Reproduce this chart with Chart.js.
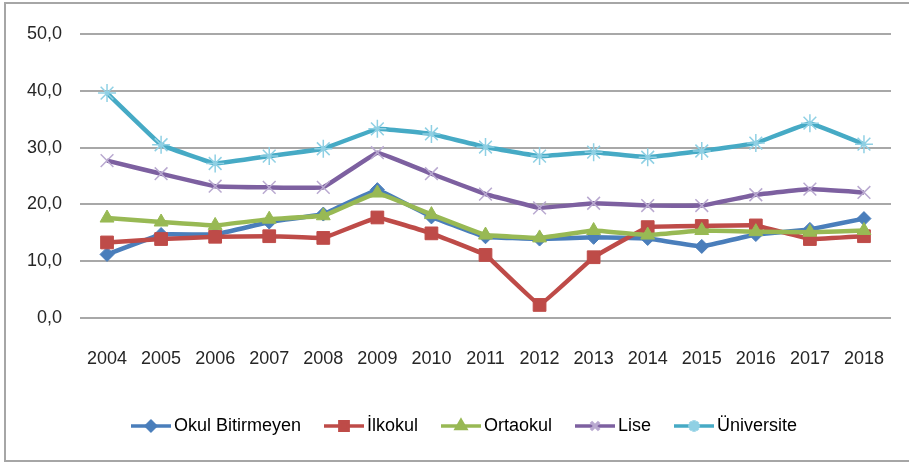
<!DOCTYPE html>
<html>
<head>
<meta charset="utf-8">
<script src="https://cdn.jsdelivr.net/npm/chart.js@4.4.1/dist/chart.umd.min.js"></script>
<style>
    html, body { margin: 0; padding: 0; background: #fff; }
    #wrap { position: relative; width: 909px; height: 464px; }
</style>
</head>
<body>
<div id="wrap"><canvas id="chart" width="909" height="464"></canvas></div>
<script>
// Veriler
const years = ['2004', '2005', '2006', '2007', '2008', '2009', '2010', '2011', '2012', '2013', '2014', '2015', '2016', '2017', '2018'];
const okulBitirmeyen = [11.2, 14.7, 14.7, 16.9, 18.3, 22.6, 17.8, 14.3, 13.9, 14.2, 14.0, 12.6, 14.7, 15.6, 17.5];
const ilkokul = [13.3, 13.9, 14.3, 14.4, 14.1, 17.7, 14.9, 11.1, 2.3, 10.7, 16.0, 16.2, 16.3, 13.9, 14.4];
const ortaokul = [17.6, 16.9, 16.3, 17.4, 18.0, 22.0, 18.2, 14.6, 14.1, 15.4, 14.6, 15.4, 15.2, 15.1, 15.4];
const lise = [27.7, 25.4, 23.2, 23.0, 23.0, 29.1, 25.4, 21.8, 19.4, 20.2, 19.8, 19.8, 21.7, 22.7, 22.1];
const universite = [39.6, 30.5, 27.2, 28.5, 29.8, 33.3, 32.4, 30.1, 28.5, 29.2, 28.3, 29.4, 30.8, 34.3, 30.6];
const yTicks = [0, 10, 20, 30, 40, 50];

const FONT = "'Liberation Sans', Arial, sans-serif";

// Seri tanımları
const series = [
    { label: 'Okul Bitirmeyen', data: okulBitirmeyen, color: '#4a7ebb', marker: '#4a7ebb', style: 'rectRot', radius: 7, bw: 1 },
    { label: 'İlkokul', data: ilkokul, color: '#be4b48', marker: '#be4b48', style: 'rect', radius: 9, bw: 1 },
    { label: 'Ortaokul', data: ortaokul, color: '#98b954', marker: '#98b954', style: 'triangle', radius: 8, bw: 1 },
    { label: 'Lise', data: lise, color: '#7d60a0', marker: '#b9a9d0', style: 'crossRot', radius: 9, bw: 1.5 },
    { label: 'Üniversite', data: universite, color: '#46aac5', marker: '#8fd0e4', style: 'star', radius: 9, bw: 1.5 }
];

// Lejant simgesi: çizgi + küçük işaret
function makeIcon(s) {
    const c = document.createElement('canvas');
    c.width = 40;
    c.height = 18;
    const ctx = c.getContext('2d');
    ctx.strokeStyle = s.color;
    ctx.lineWidth = 3.5;
    ctx.beginPath();
    ctx.moveTo(0, 9);
    ctx.lineTo(40, 9);
    ctx.stroke();
    ctx.fillStyle = s.marker;
    ctx.strokeStyle = s.marker;
    Chart.helpers.drawPoint(ctx, { pointStyle: s.style, radius: s.radius * 0.65, rotation: 0, borderWidth: s.bw }, 20, 9);
    return c;
}

// Çerçeve
const framePlugin = {
    id: 'frame',
    beforeDraw(chart) {
        const ctx = chart.ctx;
        ctx.save();
        ctx.fillStyle = '#fff';
        ctx.fillRect(0, 0, chart.width, chart.height);
        ctx.strokeStyle = '#a6a6a6';
        ctx.lineWidth = 2;
        ctx.beginPath();
        ctx.moveTo(909, 3);
        ctx.lineTo(5, 3);
        ctx.lineTo(5, 461);
        ctx.lineTo(909, 461);
        ctx.stroke();
        ctx.restore();
    }
};

// Lejantı biraz sağa kaydır
const legendShift = {
    id: 'legendShift',
    afterLayout(chart) {
        if (chart.legend) chart.legend.left = 43;
    }
};

const datasets = series.map((s, i) => ({
    label: s.label,
    data: s.data,
    borderColor: s.color,
    backgroundColor: s.marker,
    borderWidth: 4.5,
    tension: 0.05,
    pointStyle: s.style,
    pointRadius: s.radius,
    pointBackgroundColor: s.marker,
    pointBorderColor: s.marker,
    pointBorderWidth: s.bw,
    order: series.length - i
}));

new Chart(document.getElementById('chart'), {
    type: 'line',
    data: { labels: years, datasets: datasets },
    plugins: [framePlugin, legendShift],
    options: {
        responsive: false,
        animation: false,
        events: [],
        layout: { padding: { top: 34, right: 18, bottom: 19, left: 0 } },
        scales: {
            x: {
                offset: true,
                grid: { display: true, drawOnChartArea: false, drawTicks: true, tickLength: 30, color: 'rgba(0,0,0,0)' },
                border: { display: false },
                ticks: { color: '#262626', padding: 0, font: { family: FONT, size: 18 } },
                afterFit(scale) { scale.height = 70; }
            },
            y: {
                min: 0,
                max: 50,
                afterBuildTicks(scale) { scale.ticks = yTicks.map(v => ({ value: v })); },
                grid: { color: '#a8a8a8', lineWidth: 2, drawTicks: false },
                border: { display: false },
                ticks: {
                    color: '#262626',
                    padding: 18,
                    font: { family: FONT, size: 18 },
                    callback: v => v.toFixed(1).replace('.', ',')
                },
                afterFit(scale) { scale.width = 80; }
            }
        },
        plugins: {
            tooltip: { enabled: false },
            legend: {
                position: 'bottom',
                labels: {
                    usePointStyle: true,
                    pointStyleWidth: 28,
                    boxHeight: 18,
                    padding: 29,
                    color: '#262626',
                    font: { family: FONT, size: 18 },
                    generateLabels: () => series.map((s, i) => ({
                        text: s.label,
                        pointStyle: makeIcon(s),
                        fillStyle: s.color,
                        strokeStyle: s.color,
                        lineWidth: 0,
                        hidden: false,
                        datasetIndex: i
                    }))
                }
            }
        }
    }
});
</script>
</body>
</html>
